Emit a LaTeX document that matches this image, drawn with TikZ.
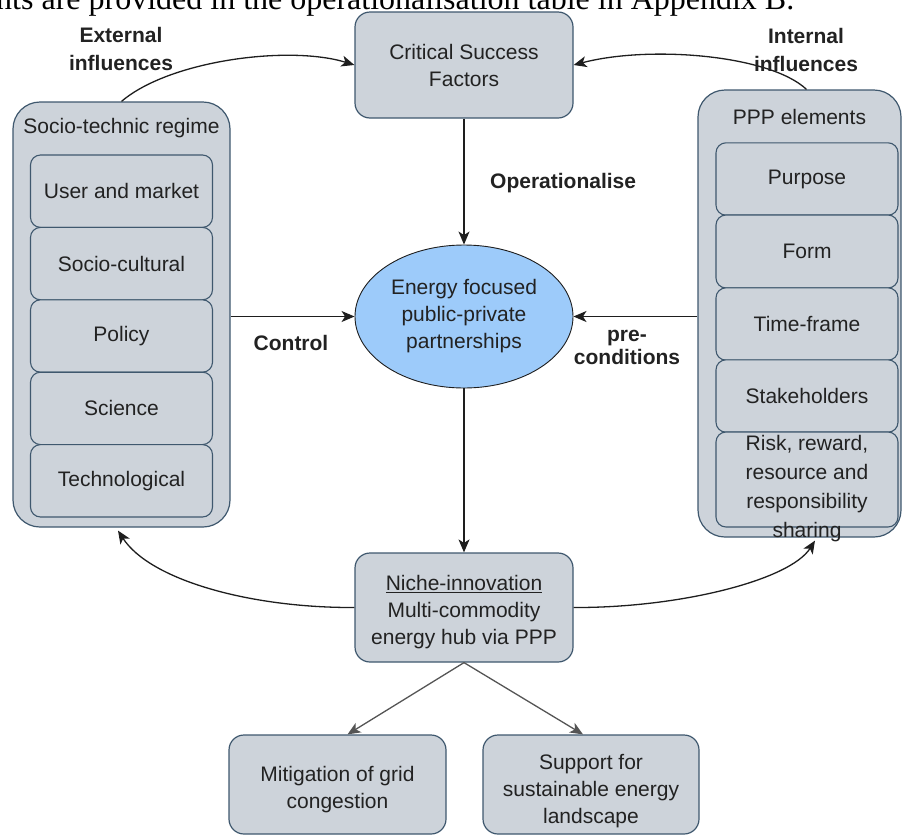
\documentclass[tikz,border=0pt]{standalone}
\usepackage{fontspec}
\setmainfont{Liberation Sans}
\newfontfamily\serifbody{Liberation Serif}
\usetikzlibrary{arrows.meta,shapes.geometric}

\definecolor{boxfill}{HTML}{CDD3DA}
\definecolor{boxline}{HTML}{3F586E}
\definecolor{hubfill}{HTML}{9DCBFA}
\definecolor{wire}{HTML}{1E1E1E}
\definecolor{branch}{HTML}{555555}
\definecolor{ink}{HTML}{222222}

\tikzset{
  base/.style={font=\fontsize{21}{27}\selectfont, text=ink},
  panel/.style={draw=boxline, fill=boxfill, line width=1.2pt, rounded corners=27pt, inner sep=0pt},
  cell/.style={draw=boxline, fill=boxfill, line width=1.1pt, rounded corners=10pt, inner sep=0pt,
    minimum width=182pt, minimum height=72.4pt, align=center, base},
  card/.style={draw=boxline, fill=boxfill, line width=1.2pt, rounded corners=15pt, inner sep=0pt,
    align=center, base},
  flow/.style={draw=wire, line width=1.3pt, -{Stealth[length=13pt,width=11pt,inset=3.5pt]}},
  tag/.style={font=\bfseries\fontsize{21}{23}\selectfont, text=ink, align=center, inner sep=0pt},
  widetag/.style={tag, font=\bfseries\fontsize{21}{28}\selectfont},
}

\begin{document}
\begin{tikzpicture}[x=1pt,y=-1pt]
\useasboundingbox (0,0) rectangle (903,836);
\clip (0,0) rectangle (903,836);

% running text of the page above the figure
\node[anchor=base west, inner sep=0pt, font=\serifbody\fontsize{32}{36}\selectfont, text=black]
  (lead) at (-4,9) {nts are provided in the operationalisation table in Appendix B.};

% top: critical success factors
\node[card, minimum width=218pt, minimum height=106pt] (csf) at (464,65) {Critical Success\\Factors};

% left: socio-technic regime
\node[panel, minimum width=217pt, minimum height=425pt] (regime) at (121.5,314.5) {};
\node[base, inner sep=0pt] (regtitle) at (121.5,128) {Socio-technic regime};
\node[cell] (r1) at (121.5,191.2) {User and market};
\node[cell] (r2) at (121.5,263.6) {Socio-cultural};
\node[cell] (r3) at (121.5,336.0) {Policy};
\node[cell] (r4) at (121.5,408.4) {Science};
\node[cell] (r5) at (121.5,480.8) {Technological};

% right: PPP elements
\node[panel, minimum width=203pt, minimum height=447pt] (ppp) at (799.5,313.5) {};
\node[base, inner sep=0pt] (ppptitle) at (799.5,117) {PPP elements};
\node[cell] (p1) at (807,179) {Purpose};
\node[cell, minimum height=73pt] (p2) at (807,251.5) {Form};
\node[cell] (p3) at (807,324) {Time-frame};
\node[cell] (p4) at (807,396) {Stakeholders};
\node[cell, minimum height=95pt] (p5) at (807,479.5) {};
\node[align=center, inner sep=0pt, font=\fontsize{21}{29}\selectfont, text=ink] (p5text) at (807,489)
  {Risk, reward,\\resource and\\responsibility\\sharing};

% centre: energy focused PPP
\node[ellipse, draw=wire, line width=0.9pt, fill=hubfill, minimum width=218pt, minimum height=143pt,
  inner sep=0pt, align=center, base] (hub) at (464,316.5) {Energy focused\\public-private\\partnerships};

% niche innovation
\node[card, minimum width=218pt, minimum height=109pt] (niche) at (464,607.5) {};
\node[base, align=center, inner sep=0pt] (nichetext) at (464,612)
  {\underline{Niche-innovation}\\Multi-commodity\\energy hub via PPP};

% outcomes
\node[card, minimum width=217pt, minimum height=99pt] (mit) at (337.5,784.5) {};
\node[base, align=center, inner sep=0pt] (mittext) at (337.5,790) {Mitigation of grid\\congestion};
\node[card, minimum width=216pt, minimum height=99pt] (sup) at (591,784.5) {};
\node[base, align=center, inner sep=0pt] (suptext) at (591,791) {Support for\\sustainable energy\\landscape};

% straight connectors
\draw[flow] (csf.south) -- (hub.north);
\draw[flow] (regime.east |- hub) -- (hub.west);
\draw[flow] (ppp.west |- hub) -- (hub.east);
\draw[flow] (hub.south) -- (niche.north);
\draw[flow, draw=branch] (niche.south) -- ([xshift=10pt]mit.north);
\draw[flow, draw=branch] (niche.south) -- ([xshift=-8pt]sup.north);

% curved influence connectors
\draw[flow] (regime.north) .. controls (170,60) and (290,45) .. (csf.west);
\draw[flow] ([xshift=7pt]ppp.north) .. controls (770,55) and (650,45) .. (csf.east);
\draw[flow] (niche.west) .. controls (250,608) and (150,580) .. ([xshift=-3.5pt,yshift=-3pt]regime.south);
\draw[flow] (niche.east) .. controls (680,608) and (790,580) .. ([xshift=15.5pt,yshift=-3pt]ppp.south);

% connector labels
\node[widetag] (lext) at (121,49) {External\\influences};
\node[widetag] (lint) at (806,50) {Internal\\influences};
\node[tag, anchor=west] (lop) at (490,183) {Operationalise};
\node[tag] (lctl) at (291,343) {Control};
\node[tag] (lpre) at (627,347) {pre-\\conditions};
\end{tikzpicture}
\end{document}
